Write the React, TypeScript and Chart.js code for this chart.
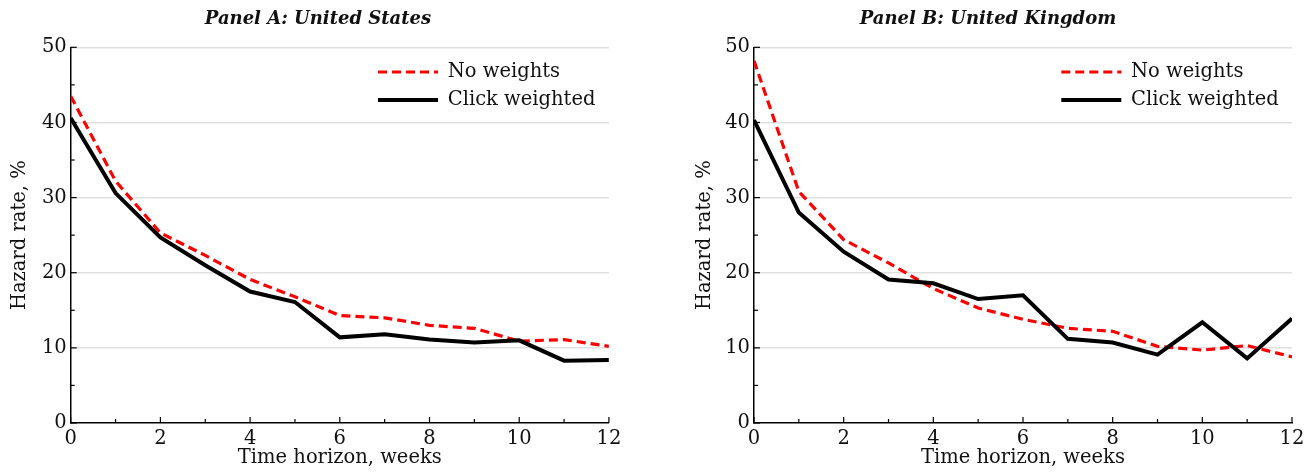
import React, { useEffect, useRef } from "react";
import { Chart, registerables } from "chart.js";

Chart.register(...registerables);

const weeks = [0, 1, 2, 3, 4, 5, 6, 7, 8, 9, 10, 11, 12];
const usNoWeights = [43.5, 32.2, 25.3, 22.3, 19.1, 16.8, 14.3, 14.0, 13.0, 12.6, 10.9, 11.1, 10.2];
const usClickWeighted = [40.6, 30.6, 24.7, 21.0, 17.5, 16.1, 11.4, 11.8, 11.1, 10.7, 11.0, 8.3, 8.4];
const ukNoWeights = [48.2, 30.8, 24.4, 21.3, 17.9, 15.3, 13.8, 12.6, 12.2, 10.2, 9.7, 10.3, 8.8];
const ukClickWeighted = [40.3, 28.0, 22.8, 19.1, 18.6, 16.5, 17.0, 11.2, 10.7, 9.1, 13.4, 8.6, 13.9];

const yMajorTicks = [0, 10, 20, 30, 40, 50];
const yMinorTicks = [5, 15, 25, 35, 45];
const xMajorTicks = [0, 2, 4, 6, 8, 10, 12];
const xMinorTicks = [1, 3, 5, 7, 9, 11];

const seriesLabels = ["No weights", "Click weighted"];
const panelTitles = ["Panel A: United States", "Panel B: United Kingdom"];
const xTitle = "Time horizon, weeks";
const yTitle = "Hazard rate, %";

const FAMILY = "'DejaVu Serif', serif";
const TEXT = "#111";

const innerTicks = {
  id: "innerTicks",
  afterDatasetsDraw(chart: any) {
    const { ctx, chartArea, scales } = chart;
    const x = scales.x;
    const y = scales.y;
    ctx.save();
    ctx.strokeStyle = "#000";
    ctx.lineWidth = 1.2;
    const seg = (x1: number, y1: number, x2: number, y2: number) => {
      ctx.beginPath();
      ctx.moveTo(x1, y1);
      ctx.lineTo(x2, y2);
      ctx.stroke();
    };
    yMajorTicks.forEach((v) => {
      const p = y.getPixelForValue(v);
      seg(chartArea.left, p, chartArea.left + 6, p);
    });
    yMinorTicks.forEach((v) => {
      const p = y.getPixelForValue(v);
      seg(chartArea.left, p, chartArea.left + 4, p);
    });
    xMajorTicks.forEach((v) => {
      const p = x.getPixelForValue(v);
      seg(p, chartArea.bottom, p, chartArea.bottom - 6);
    });
    xMinorTicks.forEach((v) => {
      const p = x.getPixelForValue(v);
      seg(p, chartArea.bottom, p, chartArea.bottom - 4);
    });
    ctx.restore();
  },
};

const placeBoxes = {
  id: "placeBoxes",
  afterLayout(chart: any, _args: any, opts: any) {
    const ca = chart.chartArea;
    const lg = chart.legend;
    if (lg) {
      const w = lg.width;
      const h = lg.height;
      lg.left = ca.left + opts.legendDx - 8.5;
      lg.top = opts.legendLineY - 9.75 - 8.5;
      lg.right = lg.left + w;
      lg.bottom = lg.top + h;
    }
    const tb = chart.titleBlock;
    if (tb) {
      const w = 500;
      tb.left = opts.titleCx - w / 2;
      tb.right = tb.left + w;
      tb.width = w;
    }
  },
};

type PanelProps = {
  title: string;
  noW: number[];
  click: number[];
  yWidth: number;
  yTitlePad: number;
  rightPad: number;
  titleCx: number;
};

function Panel(props: PanelProps) {
  const ref = useRef<HTMLCanvasElement | null>(null);
  useEffect(() => {
    if (!ref.current) return;
    const font = { family: FAMILY, size: 19.5 };
    const baseGen = (Chart as any).defaults.plugins.legend.labels.generateLabels;
    const chart = new Chart(ref.current, {
      type: "line",
      data: {
        datasets: [
          {
            label: seriesLabels[1],
            data: weeks.map((w, i) => ({ x: w, y: props.click[i] })),
            borderColor: "#000",
            backgroundColor: "#000",
            borderWidth: 4,
            pointRadius: 0,
            tension: 0,
          },
          {
            label: seriesLabels[0],
            data: weeks.map((w, i) => ({ x: w, y: props.noW[i] })),
            borderColor: "#ff0000",
            backgroundColor: "#ff0000",
            borderWidth: 3.2,
            borderDash: [9, 5],
            pointRadius: 0,
            tension: 0,
          },
        ],
      },
      options: {
        animation: false,
        responsive: false,
        maintainAspectRatio: false,
        layout: { padding: { left: 0, right: props.rightPad, top: 0, bottom: 0 } },
        plugins: {
          title: {
            display: true,
            text: props.title,
            color: TEXT,
            font: { family: FAMILY, size: 18, weight: "bold", style: "italic" },
            padding: { top: 9, bottom: 16.7 },
          },
          legend: {
            position: "chartArea",
            align: "start",
            labels: {
              usePointStyle: true,
              pointStyle: "line",
              pointStyleWidth: 60,
              boxWidth: 60,
              padding: 8.5,
              color: TEXT,
              font,
              sort: (a: any, b: any) => b.datasetIndex - a.datasetIndex,
              generateLabels: (ch: any) =>
                baseGen(ch).map((item: any) => {
                  const ds = ch.data.datasets[item.datasetIndex];
                  return {
                    ...item,
                    strokeStyle: ds.borderColor,
                    fillStyle: ds.borderColor,
                    lineWidth: ds.datasetIndex === 0 ? 4 : ds.borderWidth,
                    lineDash: ds.borderDash || [],
                    lineCap: "butt",
                  };
                }),
            },
          },
          tooltip: { enabled: false },
          placeBoxes: { legendDx: 307.3, legendLineY: 72, titleCx: props.titleCx },
        } as any,
        scales: {
          x: {
            type: "linear",
            min: 0,
            max: 12,
            ticks: { stepSize: 2, color: TEXT, font, padding: 4.5, maxRotation: 0 },
            grid: { display: false, drawTicks: false },
            border: { display: true, color: "#000", width: 1.5 },
            title: {
              display: true,
              text: xTitle,
              color: TEXT,
              font,
              padding: { top: 0, bottom: 4 },
            },
            afterFit: (s: any) => {
              s.height = 51;
            },
          },
          y: {
            type: "linear",
            min: 0,
            max: 50,
            ticks: { stepSize: 10, color: TEXT, font, padding: 4 },
            grid: {
              color: (c: any) => (c.tick && c.tick.value === 0 ? "rgba(0,0,0,0)" : "#e0e0e0"),
              lineWidth: 1.5,
              drawTicks: false,
            },
            border: { display: true, color: "#000", width: 1.5 },
            title: {
              display: true,
              text: yTitle,
              color: TEXT,
              font,
              padding: { top: props.yTitlePad, bottom: 0 },
            },
            afterFit: (s: any) => {
              s.width = props.yWidth;
            },
          },
        },
      } as any,
      plugins: [innerTicks, placeBoxes],
    });
    return () => chart.destroy();
  }, []);
  return <canvas ref={ref} width={656} height={474} style={{ display: "block", width: 656, height: 474 }} />;
}

export default function App() {
  return (
    <div
      style={{
        position: "fixed",
        left: 0,
        top: 0,
        width: 1312,
        height: 474,
        background: "#fff",
        display: "flex",
      }}
    >
      <Panel
        title={panelTitles[0]}
        noW={usNoWeights}
        click={usClickWeighted}
        yWidth={70.7}
        yTitlePad={8.3}
        rightPad={47.1}
        titleCx={318}
      />
      <Panel
        title={panelTitles[1]}
        noW={ukNoWeights}
        click={ukClickWeighted}
        yWidth={98}
        yTitlePad={37.3}
        rightPad={20}
        titleCx={332}
      />
    </div>
  );
}
